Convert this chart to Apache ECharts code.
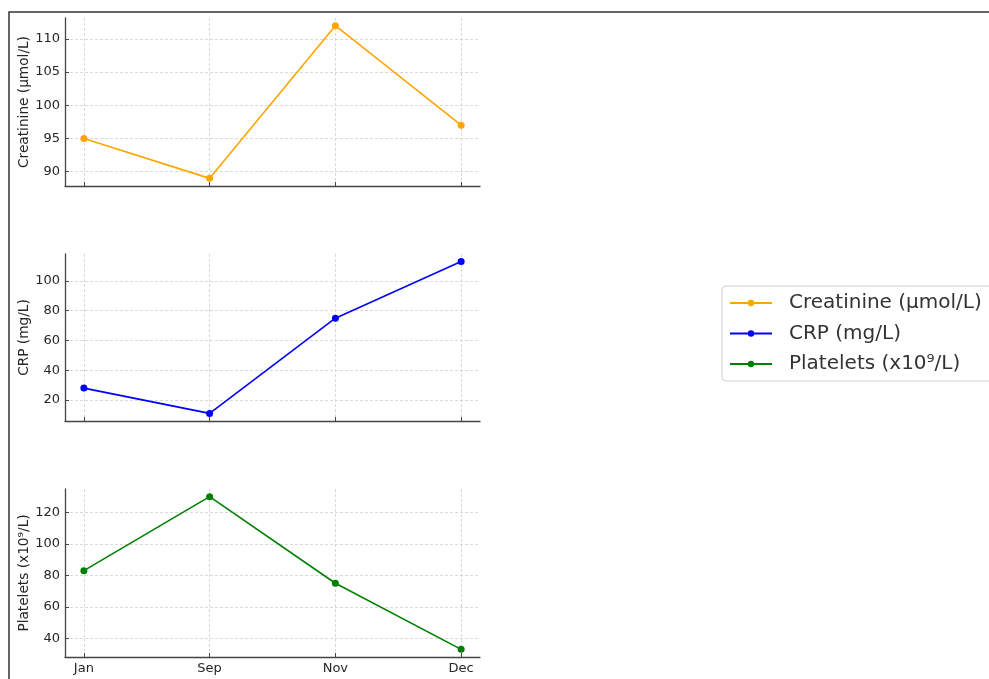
<!DOCTYPE html>
<html>
<head>
<meta charset="utf-8">
<script src="https://cdn.jsdelivr.net/npm/echarts@6/dist/echarts.min.js"></script>
<style>
html,body{margin:0;padding:0;background:#fff;}
#c{width:989px;height:679px;}
</style>
</head>
<body>
<div id="c"></div>
<script>
const categories = ['Jan', 'Sep', 'Nov', 'Dec'];
const creatinine = [95, 89, 112, 97];
const crp = [28, 11, 75, 113];
const platelets = [83, 130, 75, 33];
const creatinineTicks = [90, 95, 100, 105, 110];
const crpTicks = [20, 40, 60, 80, 100];
const plateletTicks = [40, 60, 80, 100, 120];
const names = ['Creatinine (\u00b5mol/L)', 'CRP (mg/L)', 'Platelets (x10\u2079/L)'];
const colors = ['#FFA500', '#0000FF', '#008000'];

const font = 'DejaVu Sans';
const xIdx = categories.map((c, i) => i);

function limits(arr) {
  const mn = Math.min(...arr), mx = Math.max(...arr), m = (mx - mn) * 0.05;
  return [mn - m, mx + m];
}

const grids = [
  {left: 65, top: 18, width: 415, height: 168},
  {left: 65, top: 254, width: 415, height: 167},
  {left: 65, top: 489, width: 415, height: 168}
];

const datasets = [creatinine, crp, platelets];
const ticks = [creatinineTicks, crpTicks, plateletTicks];

const splitLine = {show: true, lineStyle: {color: '#cfcfcf', width: 0.8, type: [3, 2]}};

const xAxes = grids.map((g, i) => ({
  type: 'value', gridIndex: i, min: -0.15, max: 3.15,
  axisLine: {show: true, onZero: false, lineStyle: {color: '#444', width: 1.3}},
  axisTick: {show: true, inside: true, length: 4, customValues: xIdx, lineStyle: {color: '#444', width: 1}},
  axisLabel: {show: i === 2, customValues: xIdx, formatter: v => categories[Math.round(v)] || '',
    color: '#262626', fontFamily: font, fontSize: 13, margin: 5},
  splitLine: splitLine
}));

const yAxes = grids.map((g, i) => {
  const [mn, mx] = limits(datasets[i]);
  return {
    type: 'value', gridIndex: i, min: mn, max: mx,
    name: names[i], nameLocation: 'middle', nameGap: 34,
    nameTextStyle: {color: '#262626', fontFamily: font, fontSize: 13.7},
    axisLine: {show: true, onZero: false, lineStyle: {color: '#444', width: 1.3}},
    axisTick: {show: true, inside: true, length: 4, customValues: ticks[i], lineStyle: {color: '#444', width: 1}},
    axisLabel: {show: true, customValues: ticks[i], color: '#262626', fontFamily: font, fontSize: 13, margin: 5},
    splitLine: splitLine
  };
});

const series = datasets.map((d, i) => ({
  name: names[i], type: 'line', xAxisIndex: i, yAxisIndex: i,
  data: d.map((v, j) => [xIdx[j], v]),
  symbol: 'circle', symbolSize: 7,
  itemStyle: {color: colors[i]},
  lineStyle: {color: colors[i], width: 1.6},
  emphasis: {disabled: true},
  animation: false
}));

const chart = echarts.init(document.getElementById('c'), null, {renderer: 'canvas'});
chart.setOption({
  animation: false,
  backgroundColor: '#fff',
  grid: grids,
  xAxis: xAxes,
  yAxis: yAxes,
  series: series,
  legend: {
    orient: 'vertical', left: 722, top: 286,
    data: names,
    itemWidth: 42, itemHeight: 8, itemGap: 6.5,
    padding: [5, 40, 5, 7],
    borderColor: '#d0d0d0', borderWidth: 1, borderRadius: 4,
    textStyle: {color: '#333', fontFamily: font, fontSize: 20, lineHeight: 24, padding: [0, 0, 0, 12]},
    selectedMode: false
  },
  graphic: [{
    type: 'rect', shape: {x: 9, y: 12, width: 1200, height: 1000},
    style: {fill: null, stroke: '#333', lineWidth: 1.5}, silent: true
  }]
});
</script>
</body>
</html>
